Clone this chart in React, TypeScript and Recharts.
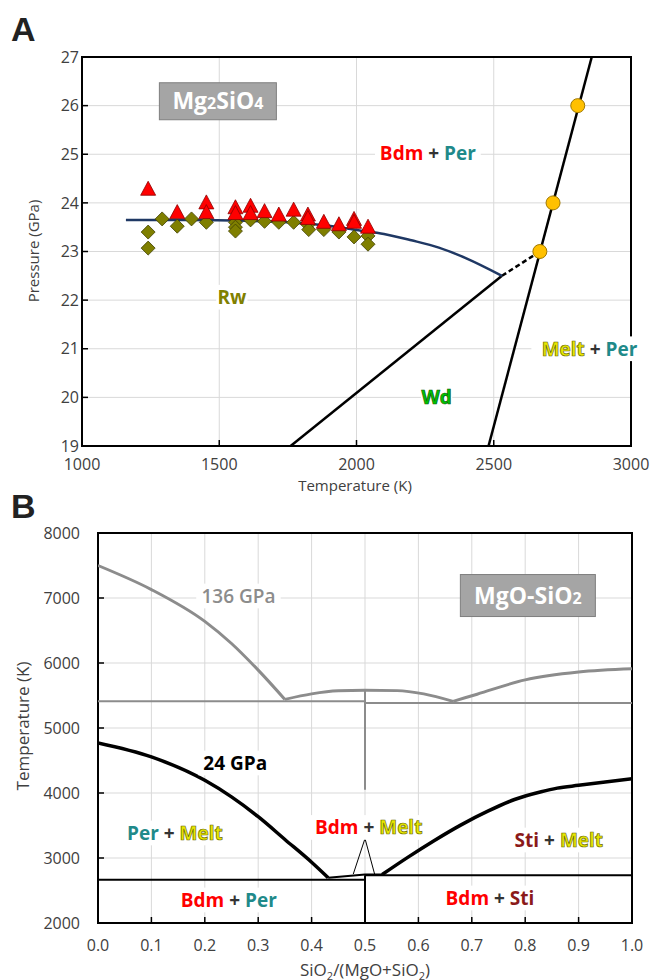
import React from 'react';
import {
  ComposedChart,
  Line,
  Scatter,
  XAxis,
  YAxis,
  CartesianGrid,
  ReferenceDot,
  ReferenceArea,
} from 'recharts';

const FONT = '"Open Sans", "Liberation Sans", sans-serif';

// ---- panel A: Mg2SiO4, pressure vs temperature
const tempTicks = [1000, 1500, 2000, 2500, 3000];
const pressTicks = [19, 20, 21, 22, 23, 24, 25, 26, 27];

const bdmTriangles = [
  [1241, 24.28], [1347, 23.8], [1453, 24.0], [1453, 23.8], [1559, 23.9], [1559, 23.78],
  [1614, 23.93], [1614, 23.78], [1665, 23.82], [1717, 23.75], [1771, 23.85], [1823, 23.75],
  [1823, 23.68], [1881, 23.6], [1936, 23.55], [1991, 23.66], [1991, 23.6], [2042, 23.5],
];
const rwDiamonds = [
  [1241, 23.4], [1241, 23.07], [1292, 23.67], [1347, 23.52], [1399, 23.67], [1453, 23.6],
  [1559, 23.6], [1559, 23.5], [1559, 23.42], [1614, 23.65], [1665, 23.62], [1717, 23.6],
  [1771, 23.6], [1823, 23.55], [1826, 23.45], [1881, 23.45], [1936, 23.4], [1991, 23.3],
  [2042, 23.32], [2042, 23.15],
];
const meltPoints = [[2668, 23.0], [2716, 24.0], [2806, 26.0]];
const postSpinelCurve = [
  [1160, 23.65], [1400, 23.65], [1600, 23.63], [1800, 23.58], [1900, 23.53], [2000, 23.44],
  [2100, 23.36], [2200, 23.23], [2300, 23.08], [2400, 22.86], [2530, 22.5],
];
const postSpinelDashed = [[2530, 22.5], [2668, 23.0]];
const wdBoundary = [[1760, 19], [2530, 22.5]];
const meltingCurve = [[2481, 19], [2857, 27]];

// ---- panel B: MgO-SiO2 binary
const compTicks = [0, 0.1, 0.2, 0.3, 0.4, 0.5, 0.6, 0.7, 0.8, 0.9, 1.0];
const tempTicksB = [2000, 3000, 4000, 5000, 6000, 7000, 8000];

const liquidus136Per = [[0, 7500], [0.1, 7130], [0.2, 6640], [0.25, 6300], [0.3, 5890], [0.35, 5440]];
const liquidus136Bdm = [
  [0.35, 5440], [0.4, 5525], [0.45, 5572], [0.5, 5580], [0.56, 5575], [0.61, 5525], [0.665, 5410],
];
const liquidus136Sti = [[0.665, 5410], [0.71, 5520], [0.8, 5740], [0.9, 5860], [1.0, 5910]];
const solidus136Left = [[0, 5410], [0.5, 5410]];
const solidus136Right = [[0.5, 5385], [1.0, 5385]];
const bdm136 = [[0.5, 5580], [0.5, 4050]];

const liquidus24Left = [
  [0, 4770], [0.1, 4555], [0.2, 4195], [0.25, 3940], [0.3, 3635], [0.35, 3285], [0.4, 2935],
  [0.431, 2697],
];
const liquidus24Mid = [[0.431, 2697], [0.5, 2745], [0.532, 2745]];
const liquidus24Right = [
  [0.532, 2745], [0.58, 3010], [0.63, 3270], [0.68, 3510], [0.73, 3720], [0.78, 3900],
  [0.83, 4020], [0.86, 4075], [0.9, 4118], [1.0, 4220],
];
const solidus24Left = [[0, 2666], [0.5, 2666]];
const solidus24Right = [[0.5, 2734], [1.0, 2734]];
const bdm24 = [[0.5, 2734], [0.5, 2000]];
const pointerLeft = [[0.5, 3300], [0.478, 2752]];
const pointerRight = [[0.5, 3300], [0.518, 2752]];

const toXY = (pts: number[][]) => pts.map(([x, y]) => ({ x, y }));

const RED = '#ff0000';
const TEAL = '#1f8a8a';
const YEL = '#e8e800';
const STI = '#8b1a1a';
const PLUS = '#333333';

type Part = { t: string; c: string; outline?: string };

const Tag = ({ cx, cy, parts, size = 19, weight = 700 }: any) => {
  const len = parts.reduce((s: number, p: Part) => s + p.t.length, 0);
  const w = len * size * 0.56 + 10;
  return (
    <g>
      <rect x={cx - w / 2} y={cy - size * 0.65} width={w} height={size * 1.3} fill="#fff" />
      <text x={cx} y={cy} textAnchor="middle" dominantBaseline="central" fontFamily={FONT}
        fontWeight={weight} fontSize={size} style={{ whiteSpace: 'pre' }}>
        {parts.map((p: Part, i: number) => (
          <tspan key={i} fill={p.c} stroke={p.outline || 'none'} strokeWidth={p.outline ? 0.7 : 0}>
            {p.t}
          </tspan>
        ))}
      </text>
    </g>
  );
};

const FormulaBox = ({ cx, cy, w, h, main }: any) => (
  <g>
    <rect x={cx - w / 2} y={cy - h / 2} width={w} height={h} fill="#a5a5a5" stroke="#7f7f7f" strokeWidth={1} />
    <text x={cx} y={cy + 8} textAnchor="middle" fontFamily={FONT}
      fontWeight={700} fontSize={23} fill="#fff">
      {main.map((p: any, i: number) => (
        <tspan key={i} fontSize={p.small ? 16 : 23}>{p.t}</tspan>
      ))}
    </text>
  </g>
);

const Triangle = (p: any) => (
  <polygon points={`${p.cx},${p.cy - 8} ${p.cx - 7.5},${p.cy + 6} ${p.cx + 7.5},${p.cy + 6}`}
    fill={RED} stroke="#8b0000" strokeWidth={0.8} />
);
const Diamond = (p: any) => (
  <polygon points={`${p.cx},${p.cy - 7} ${p.cx + 7},${p.cy} ${p.cx},${p.cy + 7} ${p.cx - 7},${p.cy}`}
    fill="#7f7f00" stroke="#404000" strokeWidth={0.8} />
);
const Gold = (p: any) => (
  <circle cx={p.cx} cy={p.cy} r={7} fill="#ffc000" stroke="#a07800" strokeWidth={1} />
);

const tickStyle = { fill: '#404040', fontSize: 16, fontFamily: FONT };

const seg = (pts: number[][], stroke: string, width: number, key: string, dash?: string, type: any = 'linear') => (
  <Line key={key} data={toXY(pts)} dataKey="y" type={type} stroke={stroke} strokeWidth={width}
    strokeDasharray={dash} dot={false} activeDot={false} isAnimationActive={false} />
);

function PanelA() {
  return (
    <ComposedChart width={653} height={490} margin={{ top: 57, right: 22, bottom: 0, left: 40 }}>
      <CartesianGrid stroke="#d9d9d9" />
      <XAxis dataKey="x" type="number" domain={[1000, 3000]} ticks={tempTicks} allowDataOverflow
        height={44} tick={tickStyle} tickSize={-6} tickMargin={19} axisLine={false}
        tickLine={{ stroke: '#000', strokeWidth: 1.5 }} />
      <YAxis dataKey="y" type="number" domain={[19, 27]} ticks={pressTicks} allowDataOverflow
        width={42} tick={tickStyle} tickSize={-6} tickMargin={9} axisLine={false}
        tickLine={{ stroke: '#000', strokeWidth: 1.5 }} />
      {seg(wdBoundary, '#000', 2.5, 'wd')}
      {seg(meltingCurve, '#000', 2.5, 'melt')}
      {seg(postSpinelDashed, '#000', 2.5, 'dash', '5 3')}
      <Scatter data={toXY(rwDiamonds)} dataKey="y" shape={Diamond} isAnimationActive={false} />
      {seg(postSpinelCurve, '#1f3864', 2.5, 'ps', undefined, 'monotone')}
      <Scatter data={toXY(bdmTriangles)} dataKey="y" shape={Triangle} isAnimationActive={false} />
      <Scatter data={toXY(meltPoints)} dataKey="y" shape={Gold} isAnimationActive={false} />
      <ReferenceDot x={1495} y={26.09} r={1} shape={(p: any) => (
        <FormulaBox cx={p.cx} cy={p.cy} w={117} h={37}
          main={[{ t: 'Mg' }, { t: '2', small: true }, { t: 'SiO' }, { t: '4', small: true }]} />
      )} />
      <ReferenceDot x={2260} y={25.03} r={1} shape={(p: any) => (
        <Tag cx={p.cx} cy={p.cy} parts={[{ t: 'Bdm', c: RED }, { t: ' + ', c: PLUS }, { t: 'Per', c: TEAL }]} />
      )} />
      <ReferenceDot x={1546} y={22.06} r={1} shape={(p: any) => (
        <Tag cx={p.cx} cy={p.cy} parts={[{ t: 'Rw', c: '#808000' }]} />
      )} />
      <ReferenceDot x={2292} y={20.0} r={1} shape={(p: any) => (
        <Tag cx={p.cx} cy={p.cy} parts={[{ t: 'Wd', c: '#00c400', outline: '#0a5a0a' }]} />
      )} />
      <ReferenceDot x={2849} y={21.0} r={1} shape={(p: any) => (
        <Tag cx={p.cx} cy={p.cy} parts={[{ t: 'Melt', c: YEL, outline: '#6b6b00' }, { t: ' + ', c: PLUS }, { t: 'Per', c: TEAL }]} />
      )} />
      <ReferenceArea x1={1000} x2={3000} y1={19} y2={27} fill="none" stroke="#000" strokeWidth={2} />
    </ComposedChart>
  );
}

function PanelB() {
  return (
    <ComposedChart width={653} height={500} margin={{ top: 53, right: 21, bottom: 0, left: 42 }}>
      <CartesianGrid stroke="#d9d9d9" />
      <XAxis dataKey="x" type="number" domain={[0, 1]} ticks={compTicks} allowDataOverflow
        height={57} tick={tickStyle} tickSize={-6} tickMargin={23} axisLine={false}
        tickFormatter={(v: number) => v.toFixed(1)} tickLine={{ stroke: '#000', strokeWidth: 1.5 }} />
      <YAxis dataKey="y" type="number" domain={[2000, 8000]} ticks={tempTicksB} allowDataOverflow
        width={56} tick={tickStyle} tickSize={-6} tickMargin={24} axisLine={false}
        tickLine={{ stroke: '#000', strokeWidth: 1.5 }} />
      {seg(liquidus136Per, '#8c8c8c', 3, 'l136p', undefined, 'monotone')}
      {seg(liquidus136Bdm, '#8c8c8c', 3, 'l136b', undefined, 'monotone')}
      {seg(liquidus136Sti, '#8c8c8c', 3, 'l136s', undefined, 'monotone')}
      {seg(solidus136Left, '#8c8c8c', 2, 's136l')}
      {seg(solidus136Right, '#8c8c8c', 2, 's136r')}
      {seg(bdm136, '#8c8c8c', 2, 'b136')}
      {seg(liquidus24Left, '#000', 3.5, 'l24l', undefined, 'monotone')}
      {seg(liquidus24Mid, '#000', 2, 'l24m')}
      {seg(liquidus24Right, '#000', 3.5, 'l24r', undefined, 'monotone')}
      {seg(solidus24Left, '#000', 2, 's24l')}
      {seg(solidus24Right, '#000', 2, 's24r')}
      {seg(bdm24, '#000', 2, 'b24')}
      <ReferenceDot x={0.805} y={7038} r={1} shape={(p: any) => (
        <FormulaBox cx={p.cx} cy={p.cy} w={135} h={42}
          main={[{ t: 'MgO-SiO' }, { t: '2', small: true }]} />
      )} />
      <ReferenceDot x={0.263} y={7031} r={1} shape={(p: any) => (
        <Tag cx={p.cx} cy={p.cy} weight={600} parts={[{ t: '136 GPa', c: '#8c8c8c' }]} />
      )} />
      <ReferenceDot x={0.257} y={4462} r={1} shape={(p: any) => (
        <Tag cx={p.cx} cy={p.cy} parts={[{ t: '24 GPa', c: '#000' }]} />
      )} />
      <ReferenceDot x={0.144} y={3385} r={1} shape={(p: any) => (
        <Tag cx={p.cx} cy={p.cy} parts={[{ t: 'Per', c: TEAL }, { t: ' + ', c: PLUS }, { t: 'Melt', c: YEL, outline: '#6b6b00' }]} />
      )} />
      <ReferenceDot x={0.507} y={3470} r={1} shape={(p: any) => (
        <Tag cx={p.cx} cy={p.cy} parts={[{ t: 'Bdm', c: RED }, { t: ' + ', c: PLUS }, { t: 'Melt', c: YEL, outline: '#6b6b00' }]} />
      )} />
      <ReferenceDot x={0.863} y={3277} r={1} shape={(p: any) => (
        <Tag cx={p.cx} cy={p.cy} parts={[{ t: 'Sti', c: STI }, { t: ' + ', c: PLUS }, { t: 'Melt', c: YEL, outline: '#6b6b00' }]} />
      )} />
      <ReferenceDot x={0.245} y={2354} r={1} shape={(p: any) => (
        <Tag cx={p.cx} cy={p.cy} parts={[{ t: 'Bdm', c: RED }, { t: ' + ', c: PLUS }, { t: 'Per', c: TEAL }]} />
      )} />
      <ReferenceDot x={0.734} y={2385} r={1} shape={(p: any) => (
        <Tag cx={p.cx} cy={p.cy} parts={[{ t: 'Bdm', c: RED }, { t: ' + ', c: PLUS }, { t: 'Sti', c: STI }]} />
      )} />
      {seg(pointerLeft, '#000', 1, 'pl')}
      {seg(pointerRight, '#000', 1, 'pr')}
      <ReferenceArea x1={0} x2={1} y1={2000} y2={8000} fill="none" stroke="#000" strokeWidth={2} />
    </ComposedChart>
  );
}

const titleStyle: React.CSSProperties = {
  position: 'absolute', fontFamily: FONT, color: '#404040', whiteSpace: 'nowrap', lineHeight: 1,
};

export default function App() {
  return (
    <div style={{ position: 'absolute', left: 0, top: 0, width: 653, height: 980, background: '#fff', overflow: 'hidden' }}>
      <div style={{ position: 'absolute', left: 0, top: 0 }}><PanelA /></div>
      <div style={{ position: 'absolute', left: 0, top: 480 }}><PanelB /></div>

      <div style={{ ...titleStyle, left: 11, top: 12, fontSize: 34, fontWeight: 700, color: '#222', fontFamily: '"Liberation Sans", Arial, sans-serif' }}>A</div>
      <div style={{ ...titleStyle, left: 11, top: 489, fontSize: 34, fontWeight: 700, color: '#222', fontFamily: '"Liberation Sans", Arial, sans-serif' }}>B</div>

      <div style={{ ...titleStyle, left: 355, top: 485, fontSize: 15, transform: 'translate(-50%, -50%)' }}>Temperature (K)</div>
      <div style={{ ...titleStyle, left: 33, top: 251, fontSize: 15, transform: 'translate(-50%, -50%) rotate(-90deg)' }}>Pressure (GPa)</div>
      <div style={{ ...titleStyle, left: 22, top: 726, fontSize: 17, transform: 'translate(-50%, -50%) rotate(-90deg)' }}>Temperature (K)</div>
      <div style={{ ...titleStyle, left: 365, top: 961, fontSize: 17, transform: 'translateX(-50%)' }}>
        SiO<span style={{ fontSize: 11, position: 'relative', top: 4 }}>2</span>/(MgO+SiO<span style={{ fontSize: 11, position: 'relative', top: 4 }}>2</span>)
      </div>
    </div>
  );
}
